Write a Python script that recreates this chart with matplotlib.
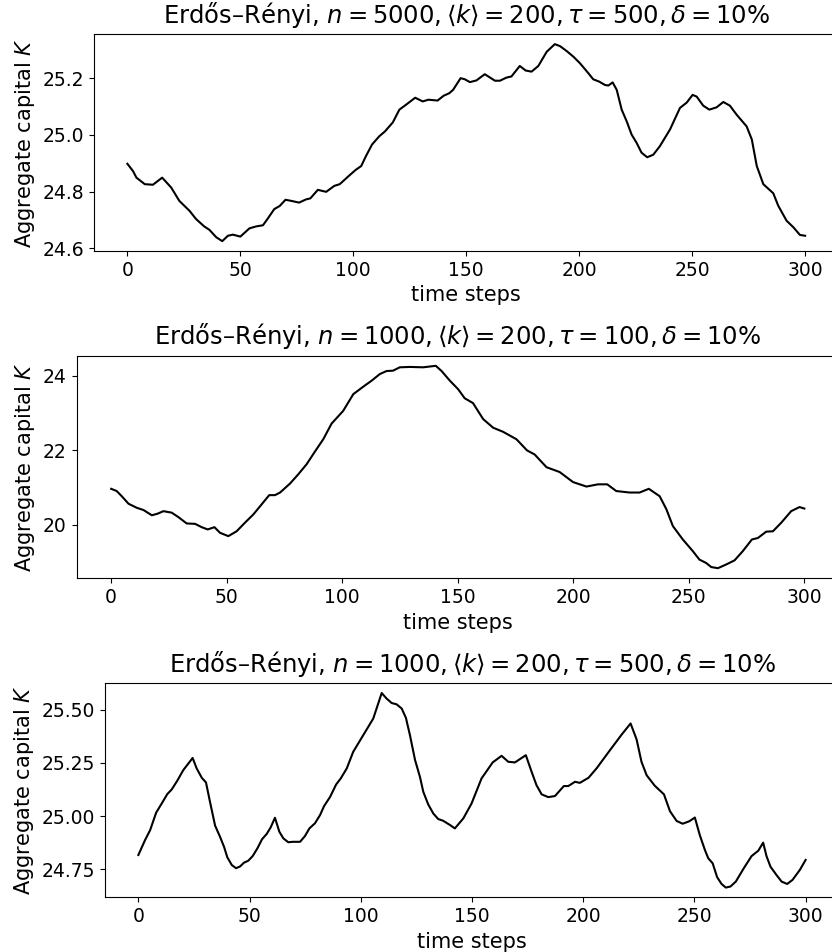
import matplotlib
matplotlib.use("Agg")
import matplotlib.pyplot as plt

# time step / aggregate capital values
t_top = [0, 2.5, 4, 7.7, 11.3, 15.4, 19.4, 23, 27.5, 30.4, 34, 36.3, 39.3, 42, 44.5, 46.7,
         50, 54, 57, 60, 62, 65, 67.4, 70, 72.6, 76, 79, 81, 84.3, 88, 91.6, 94, 98, 101,
         103.5, 105.6, 108.3, 111.5, 114, 117.5, 120.4, 123.3, 127.4, 130.7, 133.3, 137.3,
         140, 142.5, 144.2, 147.5, 149.4, 151.6, 154.5, 158.2, 162.7, 164.9, 167.8, 170,
         173.7, 176.3, 178.9, 181.9, 185.6, 189.2, 191.5, 194.4, 197.4, 200.3, 204, 206.2,
         208.8, 211.4, 212.9, 214.8, 216.6, 218.8, 221, 223.2, 225.4, 227.6, 230.1, 232.8,
         235.7, 240.2, 244.6, 247.6, 250.2, 252, 254.9, 257.6, 260.8, 263.8, 266.7, 269.7,
         274.1, 276.4, 278.6, 281.5, 285.9, 288.1, 291.8, 294.8, 297.7, 300]
K_top = [24.898, 24.872, 24.849, 24.826, 24.824, 24.849, 24.814, 24.767, 24.732, 24.703,
         24.677, 24.665, 24.639, 24.625, 24.644, 24.648, 24.641, 24.670, 24.677, 24.681,
         24.703, 24.738, 24.749, 24.771, 24.767, 24.761, 24.772, 24.776, 24.806, 24.799,
         24.820, 24.826, 24.855, 24.876, 24.890, 24.925, 24.966, 24.995, 25.012, 25.044,
         25.089, 25.106, 25.131, 25.118, 25.124, 25.121, 25.138, 25.147, 25.159, 25.200,
         25.196, 25.186, 25.192, 25.214, 25.191, 25.191, 25.202, 25.206, 25.243, 25.227,
         25.223, 25.243, 25.293, 25.320, 25.313, 25.296, 25.276, 25.253, 25.218, 25.196,
         25.188, 25.176, 25.174, 25.185, 25.159, 25.089, 25.048, 25.001, 24.972, 24.937,
         24.921, 24.930, 24.960, 25.019, 25.095, 25.114, 25.141, 25.135, 25.103, 25.089,
         25.097, 25.116, 25.103, 25.071, 25.030, 24.984, 24.890, 24.826, 24.794, 24.750,
         24.697, 24.674, 24.647, 24.644]

t_mid = [0, 2.4, 4.6, 7.5, 11.1, 14, 17.6, 20, 22.6, 26.2, 29.1, 32.7, 36.3, 39.2, 41.8,
         44.7, 47.1, 50.7, 54.3, 57.9, 61.5, 65.1, 68.4, 70.9, 73.1, 77.4, 81, 84.6, 88.2,
         91.8, 95.4, 100.4, 104.8, 109.1, 112.7, 116.3, 119.2, 122, 124.9, 129.3, 135,
         140.5, 143, 146.6, 150.2, 153, 156.6, 161, 165.3, 169.6, 175.4, 180, 183.3, 188.4,
         194.1, 199.9, 205.7, 210.7, 214.7, 218.6, 224.4, 228.7, 232.7, 237.4, 240.3,
         243.1, 247.4, 251.7, 254.6, 257.5, 259.7, 262.6, 266.2, 269.8, 273.4, 277.3,
         279.9, 283.5, 286.4, 290, 294.3, 297.9, 300]
K_mid = [20.96, 20.90, 20.76, 20.56, 20.45, 20.39, 20.25, 20.29, 20.36, 20.32, 20.20,
         20.03, 20.02, 19.93, 19.87, 19.93, 19.78, 19.69, 19.82, 20.05, 20.27, 20.54, 20.79,
         20.79, 20.86, 21.10, 21.35, 21.62, 21.96, 22.29, 22.71, 23.05, 23.50, 23.70, 23.86,
         24.04, 24.12, 24.13, 24.22, 24.23, 24.22, 24.26, 24.12, 23.86, 23.63, 23.39, 23.26,
         22.83, 22.60, 22.49, 22.29, 21.99, 21.88, 21.54, 21.41, 21.14, 21.02, 21.08, 21.08,
         20.90, 20.86, 20.86, 20.96, 20.76, 20.41, 19.96, 19.60, 19.29, 19.06, 18.97, 18.86,
         18.83, 18.93, 19.04, 19.29, 19.60, 19.64, 19.81, 19.82, 20.05, 20.36, 20.47, 20.43]

t_bot = [0, 3, 5.3, 8, 10.5, 13, 15, 17.5, 20.2, 22.5, 24.4, 26.2, 28.5, 30.4, 32.2, 34.5,
         36.7, 38.5, 40, 42, 43.9, 45.7, 47.5, 49.4, 51.4, 53.5, 55.6, 57.7, 59.5, 61.4,
         63.4, 65.2, 67.4, 69.4, 72.7, 74.9, 76.9, 79.4, 81.7, 83.5, 86.2, 88.9, 91, 93.7,
         96.6, 101.1, 105.6, 109.4, 111.6, 113.9, 116.1, 118.4, 120.3, 122.1, 124.4, 126.6,
         128.1, 130.3, 132.6, 134.8, 137, 140.1, 142.3, 146.1, 149.8, 154.3, 159.3, 163.3,
         166.3, 169.3, 171.9, 174.2, 176.8, 179, 181.3, 184.3, 187.3, 191.3, 193.3, 196.3,
         198.5, 202.4, 206, 212, 217.3, 221.3, 224, 226.2, 228.5, 232.2, 236.3, 239, 242,
         244.7, 247.6, 250.2, 252.4, 254.7, 256.2, 258.2, 260.2, 262.2, 264.1, 266.2, 268.6,
         272.2, 275.7, 278.7, 280.9, 282.4, 284.2, 286.9, 289.2, 291.7, 294.1, 297.4, 300]
K_bot = [24.817, 24.887, 24.934, 25.016, 25.059, 25.103, 25.125, 25.166, 25.216, 25.247,
         25.273, 25.224, 25.180, 25.158, 25.067, 24.955, 24.903, 24.856, 24.806, 24.770,
         24.755, 24.763, 24.781, 24.790, 24.812, 24.848, 24.891, 24.916, 24.947, 24.992,
         24.926, 24.895, 24.877, 24.879, 24.879, 24.906, 24.942, 24.966, 25.005, 25.047,
         25.090, 25.148, 25.177, 25.224, 25.302, 25.380, 25.458, 25.578, 25.552, 25.531,
         25.525, 25.505, 25.461, 25.380, 25.263, 25.184, 25.114, 25.055, 25.012, 24.986,
         24.978, 24.958, 24.942, 24.989, 25.059, 25.177, 25.252, 25.283, 25.255, 25.252,
         25.270, 25.286, 25.208, 25.145, 25.102, 25.089, 25.094, 25.141, 25.141, 25.161,
         25.156, 25.180, 25.224, 25.309, 25.383, 25.435, 25.360, 25.255, 25.192, 25.142,
         25.102, 25.023, 24.977, 24.964, 24.975, 24.993, 24.911, 24.841, 24.802, 24.778,
         24.713, 24.681, 24.664, 24.669, 24.692, 24.755, 24.812, 24.837, 24.875, 24.812,
         24.762, 24.723, 24.692, 24.681, 24.700, 24.747, 24.794]

titles = [r'Erdős–Rényi, $n=5000, \langle k\rangle=200, \tau=500, \delta=10\%$',
          r'Erdős–Rényi, $n=1000, \langle k\rangle=200, \tau=100, \delta=10\%$',
          r'Erdős–Rényi, $n=1000, \langle k\rangle=200, \tau=500, \delta=10\%$']

plt.rcParams['font.size'] = 13.5
plt.rcParams['axes.labelsize'] = 15
plt.rcParams['axes.titlesize'] = 17.5
plt.rcParams['axes.titlepad'] = 8.4

W, H = 832, 952
fig = plt.figure(figsize=(W / 100, H / 100), dpi=100)

# axes boxes in pixels: left, top, right, bottom (right edge runs past the image)
boxes = [(93.5, 34.3, 839, 251), (76.5, 355.7, 839, 578.3), (105, 683.3, 839, 897.3)]
data = [(t_top, K_top), (t_mid, K_mid), (t_bot, K_bot)]

for (l, tp, r, b), (t, K), title in zip(boxes, data, titles):
    ax = fig.add_axes([l / W, 1 - b / H, (r - l) / W, (b - tp) / H])
    ax.plot(t, K, color='black', lw=1.5)
    ax.set_title(title)
    ax.set_xlabel('time steps')
    ax.set_ylabel('Aggregate capital $K$')

fig.axes[0].set_yticks([24.6, 24.8, 25.0, 25.2])
fig.axes[1].set_yticks([20, 22, 24])
fig.axes[2].set_yticks([24.75, 25.0, 25.25, 25.5])

fig.savefig('out.png', dpi=100)
